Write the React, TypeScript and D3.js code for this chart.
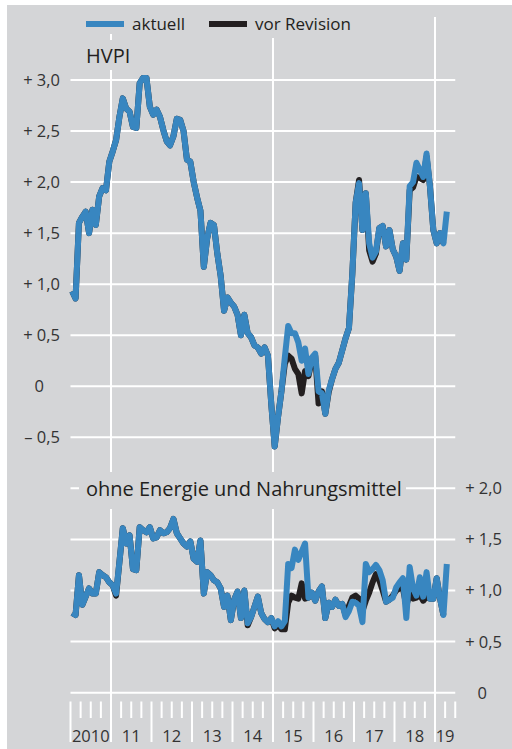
import React from "react";
import * as d3 from "d3";

// Monthly values, Jan 2010 .. Apr 2019 (year-over-year change in %)
const hvpiAktuell = [
  0.93, 0.86, 1.60, 1.66, 1.71, 1.50, 1.73, 1.58, 1.86, 1.94, 1.92, 2.20,
  2.30, 2.41, 2.64, 2.82, 2.72, 2.69, 2.54, 2.53, 2.97, 3.02, 3.02, 2.74,
  2.66, 2.71, 2.64, 2.51, 2.40, 2.36, 2.45, 2.62, 2.61, 2.50, 2.22, 2.20,
  2.00, 1.85, 1.72, 1.17, 1.45, 1.60, 1.58, 1.30, 1.08, 0.74, 0.87, 0.82,
  0.78, 0.70, 0.50, 0.70, 0.52, 0.48, 0.40, 0.38, 0.32, 0.38, 0.30, -0.18,
  -0.59, -0.30, -0.05, 0.28, 0.59, 0.52, 0.52, 0.43, 0.25, 0.37, 0.12, 0.28,
  0.32, -0.05, -0.07, -0.27, -0.04, 0.07, 0.17, 0.23, 0.35, 0.47, 0.57, 1.10,
  1.80, 1.99, 1.53, 1.89, 1.40, 1.26, 1.32, 1.55, 1.57, 1.37, 1.53, 1.34,
  1.27, 1.13, 1.40, 1.24, 1.96, 2.00, 2.19, 2.12, 2.05, 2.28, 1.96, 1.53,
  1.40, 1.50, 1.40, 1.71,
];

const hvpiVorRevision = [
  0.93, 0.86, 1.60, 1.66, 1.71, 1.50, 1.73, 1.58, 1.86, 1.94, 1.92, 2.20,
  2.30, 2.41, 2.64, 2.82, 2.72, 2.69, 2.54, 2.53, 2.97, 3.02, 3.02, 2.74,
  2.66, 2.71, 2.64, 2.51, 2.40, 2.36, 2.45, 2.62, 2.61, 2.50, 2.22, 2.20,
  2.00, 1.85, 1.72, 1.17, 1.45, 1.60, 1.58, 1.30, 1.08, 0.74, 0.87, 0.82,
  0.78, 0.70, 0.50, 0.70, 0.52, 0.48, 0.40, 0.38, 0.32, 0.38, 0.30, -0.18,
  -0.59, -0.30, -0.05, 0.22, 0.30, 0.27, 0.17, 0.12, -0.07, 0.15, 0.10, 0.25,
  0.30, -0.17, -0.05, -0.27, -0.06, 0.07, 0.17, 0.23, 0.35, 0.47, 0.57, 1.10,
  1.80, 2.02, 1.53, 1.89, 1.33, 1.22, 1.30, 1.55, 1.57, 1.37, 1.53, 1.34,
  1.27, 1.13, 1.40, 1.24, 1.92, 1.95, 2.05, 2.04, 2.02, 2.25, 1.96, 1.53,
  1.40, 1.50, 1.40,
];

const kernAktuell = [
  0.78, 0.76, 1.15, 0.86, 0.94, 1.02, 0.97, 0.97, 1.18, 1.15, 1.13, 1.08,
  1.05, 0.97, 1.28, 1.61, 1.46, 1.54, 1.21, 1.20, 1.62, 1.59, 1.57, 1.62,
  1.51, 1.52, 1.59, 1.56, 1.57, 1.61, 1.70, 1.56, 1.51, 1.46, 1.43, 1.48,
  1.31, 1.28, 1.49, 0.97, 1.18, 1.15, 1.10, 1.08, 1.02, 0.84, 0.95, 0.71,
  0.91, 0.99, 0.73, 1.00, 0.68, 0.74, 0.84, 0.94, 0.78, 0.72, 0.69, 0.73,
  0.65, 0.70, 0.65, 0.70, 1.26, 1.22, 1.40, 1.30, 1.38, 1.46, 0.93, 0.98,
  0.90, 0.99, 1.04, 0.73, 0.88, 0.84, 0.91, 0.85, 0.87, 0.74, 0.80, 0.89,
  0.88, 0.85, 0.69, 1.26, 1.18, 1.21, 1.25, 1.20, 1.10, 0.89, 0.91, 0.93,
  1.03, 1.08, 1.12, 0.73, 1.23, 1.02, 0.95, 1.13, 0.94, 1.18, 0.92, 0.92,
  1.12, 0.92, 0.76, 1.26,
];

const kernVorRevision = [
  0.78, 0.76, 1.15, 0.86, 0.94, 1.02, 0.97, 0.97, 1.18, 1.15, 1.13, 1.08,
  1.05, 0.95, 1.28, 1.61, 1.46, 1.54, 1.21, 1.20, 1.62, 1.59, 1.57, 1.62,
  1.51, 1.52, 1.59, 1.56, 1.57, 1.61, 1.70, 1.56, 1.51, 1.46, 1.43, 1.48,
  1.31, 1.28, 1.49, 0.97, 1.18, 1.15, 1.10, 1.08, 1.02, 0.84, 0.95, 0.71,
  0.91, 0.99, 0.73, 1.00, 0.66, 0.74, 0.84, 0.94, 0.78, 0.72, 0.69, 0.73,
  0.63, 0.67, 0.62, 0.62, 0.88, 0.95, 0.93, 0.92, 1.07, 0.92, 0.93, 0.98,
  0.90, 0.99, 1.04, 0.73, 0.88, 0.84, 0.91, 0.85, 0.87, 0.76, 0.85, 0.93,
  0.95, 0.92, 0.80, 0.90, 0.98, 1.08, 1.16, 1.10, 1.00, 0.89, 0.91, 0.95,
  1.00, 1.02, 1.02, 0.85, 0.97, 0.92, 0.93, 0.96, 0.90, 0.94, 0.92, 0.92,
  1.12, 0.92, 0.76,
];

const yearLabels = ["2010", "11", "12", "13", "14", "15", "16", "17", "18", "19"];
const topTicks = [-0.5, 0, 0.5, 1.0, 1.5, 2.0, 2.5, 3.0];
const bottomTicks = [0, 0.5, 1.0, 1.5, 2.0];
const gridYears = [2011, 2015, 2019];
const legendItems = [
  { label: "aktuell", color: "#3886c0" },
  { label: "vor Revision", color: "#231f20" },
];

const BG = "#d4d5d7";
const BLUE = "#3886c0";
const BLACK = "#231f20";
const FONT = "'Open Sans', 'Noto Sans', sans-serif";

const fmt = (v: number) =>
  v === 0 ? "0" : (v > 0 ? "+ " : "\u2013 ") + Math.abs(v).toFixed(1).replace(".", ",");

export default function App() {
  const x = d3.scaleLinear().domain([2010, 2019.5]).range([70.5, 455.25]);
  const yTop = d3.scaleLinear().domain([-0.5, 3.0]).range([437.3, 80]);
  const yBot = d3.scaleLinear().domain([0, 2.0]).range([692.7, 488.3]);
  const xm = (i: number) => x(2010 + (i + 0.5) / 12);

  const lineTop = d3.line<number>().x((_, i) => xm(i)).y((d) => yTop(d));
  const lineBot = d3.line<number>().x((_, i) => xm(i)).y((d) => yBot(d));

  const quarterTicks = d3.range(2010, 2019.51, 0.25);
  const x0 = x(2010);
  const x1 = x(2019.5);

  return (
    <svg
      width={512}
      height={749}
      style={{ position: "absolute", left: 0, top: 0 }}
      fontFamily={FONT}
    >
      <rect x={7} y={5} width={505} height={744} fill={BG} />

      {/* horizontal grid */}
      {topTicks.map((t) => (
        <line key={"ht" + t} x1={x0} x2={x1} y1={yTop(t)} y2={yTop(t)} stroke="#fff" strokeWidth={2} />
      ))}
      {bottomTicks.map((t) => (
        <line key={"hb" + t} x1={x0} x2={x1} y1={yBot(t)} y2={yBot(t)} stroke="#fff" strokeWidth={2} />
      ))}
      {/* vertical grid */}
      {gridYears.map((yr) => (
        <line key={"v" + yr} x1={x(yr)} x2={x(yr)} y1={17} y2={741} stroke="#fff" strokeWidth={2} />
      ))}
      {/* ticks */}
      {quarterTicks.map((q) => {
        const isYear = Math.abs(q - Math.round(q)) < 1e-6;
        return (
          <line
            key={"q" + q}
            x1={x(q)}
            x2={x(q)}
            y1={701.5}
            y2={isYear ? 742 : 718}
            stroke="#fff"
            strokeWidth={2}
          />
        );
      })}

      {/* masks behind labels */}
      <rect x={78} y={5} width={122} height={29} fill={BG} />
      <rect x={200} y={5} width={160} height={33} fill={BG} />
      <rect x={80} y={40} width={60} height={30} fill={BG} />
      <rect x={79} y={472} width={327} height={37} fill={BG} />

      {/* data lines */}
      <g fill="none" strokeLinejoin="round" strokeLinecap="butt" strokeWidth={6}>
        <path d={lineTop(hvpiVorRevision) || ""} stroke={BLACK} />
        <path d={lineBot(kernVorRevision) || ""} stroke={BLACK} />
        <path d={lineTop(hvpiAktuell) || ""} stroke={BLUE} />
        <path d={lineBot(kernAktuell) || ""} stroke={BLUE} />
      </g>

      {/* legend */}
      {legendItems.map((it, i) => {
        const lx = i === 0 ? 86 : 209;
        return (
          <g key={it.label}>
            <rect x={lx} y={21} width={38} height={6} fill={it.color} />
            <text x={lx + 46} y={30} fontSize={17} fill="#231f20">
              {it.label}
            </text>
          </g>
        );
      })}

      <text x={86} y={63} fontSize={20} fill="#231f20">HVPI</text>
      <text x={86} y={496} fontSize={20} fill="#231f20">ohne Energie und Nahrungsmittel</text>

      {/* left axis labels */}
      {topTicks.map((t) => (
        <text
          key={"lt" + t}
          x={t === 0 ? 44 : 60}
          y={yTop(t)}
          dy="0.36em"
          textAnchor="end"
          fontSize={16.5}
          fill="#333"
        >
          {fmt(t)}
        </text>
      ))}
      {/* right axis labels */}
      {bottomTicks.map((t) => (
        <text
          key={"rt" + t}
          x={t === 0 ? 487 : 502}
          y={yBot(t)}
          dy="0.36em"
          textAnchor="end"
          fontSize={16.5}
          fill="#333"
        >
          {fmt(t)}
        </text>
      ))}

      {/* year labels */}
      {yearLabels.map((lab, i) => {
        const yr = 2010 + i;
        const cx = yr === 2019 ? x(2019.25) : x(yr + 0.5);
        return (
          <text key={lab} x={cx} y={742} textAnchor="middle" fontSize={16.5} fill="#333">
            {lab}
          </text>
        );
      })}
    </svg>
  );
}
